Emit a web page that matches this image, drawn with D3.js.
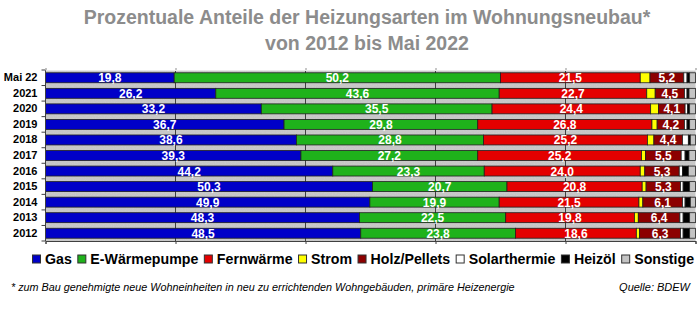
<!DOCTYPE html>
<html>
<head>
<meta charset="utf-8">
<script src="https://cdn.jsdelivr.net/npm/d3@7"></script>
<style>
  body { margin: 0; background: #fff; }
  svg { display: block; font-family: "Liberation Sans", Arial, sans-serif; }
</style>
</head>
<body>
<div id="chart"></div>
<script>
// years from top to bottom
const years = ["Mai 22", "2021", "2020", "2019", "2018", "2017", "2016", "2015", "2014", "2013", "2012"];

const series = ["Gas", "E-Wärmepumpe", "Fernwärme", "Strom", "Holz/Pellets", "Solarthermie", "Heizöl", "Sonstige"];
const colors = ["#0000c8", "#1fb21b", "#e40000", "#ffff00", "#8c0000", "#ffffff", "#000000", "#c4c4c4"];

// shares in percent, one entry per year (same order as years)
const gas          = [19.8, 26.2, 33.2, 36.7, 38.6, 39.3, 44.2, 50.3, 49.9, 48.3, 48.5];
const waermepumpe  = [50.2, 43.6, 35.5, 29.8, 28.8, 27.2, 23.3, 20.7, 19.9, 22.5, 23.8];
const fernwaerme   = [21.5, 22.7, 24.4, 26.8, 25.2, 25.2, 24.0, 20.8, 21.5, 19.8, 18.6];
const strom        = [1.5, 1.3, 1.2, 0.8, 1.0, 0.6, 0.7, 0.6, 0.6, 0.6, 0.5];
const holz         = [5.2, 4.5, 4.1, 4.2, 4.4, 5.5, 5.3, 5.3, 6.1, 6.4, 6.3];
const solar        = [0.5, 0.4, 0.4, 0.4, 0.9, 0.6, 0.5, 0.4, 0.4, 0.5, 0.4];
const heizoel      = [0.4, 0.3, 0.3, 0.4, 0.3, 0.6, 0.9, 1.0, 0.8, 1.0, 1.0];
const sonstige     = [0.9, 1.0, 0.9, 0.9, 0.8, 1.0, 1.1, 0.9, 0.8, 0.9, 0.9];

// series whose segments carry a value label
const labelled = ["Gas", "E-Wärmepumpe", "Fernwärme", "Holz/Pellets"];

const xTicks = [0, 20, 40, 60, 80, 100];

const width = 700, height = 325;
const plot = { left: 45.5, right: 695.5, top: 70, bottom: 241 };

const columns = [gas, waermepumpe, fernwaerme, strom, holz, solar, heizoel, sonstige];
const rows = years.map((year, i) => {
  const r = { year };
  series.forEach((s, j) => { r[s] = columns[j][i]; });
  return r;
});

const svg = d3.select("#chart").append("svg")
  .attr("width", width)
  .attr("height", height);

// grainy grey for the plot background
const defs = svg.append("defs");
const grain = defs.append("filter").attr("id", "grain")
  .attr("x", 0).attr("y", 0).attr("width", 1).attr("height", 1);
grain.append("feTurbulence")
  .attr("type", "fractalNoise").attr("baseFrequency", 0.9)
  .attr("numOctaves", 1).attr("seed", 3).attr("result", "noise");
grain.append("feColorMatrix")
  .attr("in", "noise").attr("type", "matrix")
  .attr("values", "0 0 0 0 0.62  0 0 0 0 0.62  0 0 0 0 0.62  0 0 0 1.4 -0.55")
  .attr("result", "dots");
grain.append("feComposite").attr("in", "dots").attr("in2", "SourceGraphic").attr("operator", "over");

// title
const title = ["Prozentuale Anteile der Heizungsarten im Wohnungsneubau*", "von 2012 bis Mai 2022"];
svg.append("g")
  .selectAll("text")
  .data(title)
  .join("text")
  .attr("x", 367).attr("y", (d, i) => 23.5 + i * 26)
  .attr("text-anchor", "middle")
  .attr("fill", "#8c8c8c")
  .attr("font-size", 19.5).attr("font-weight", "bold")
  .text(d => d);

const x = d3.scaleLinear().domain([0, 100]).range([plot.left, plot.right]);
const y = d3.scaleBand().domain(years).range([plot.top, plot.bottom])
  .paddingInner(0.36).paddingOuter(0.18);
const color = d3.scaleOrdinal().domain(series).range(colors);

// plot background
svg.append("rect")
  .attr("x", plot.left).attr("y", plot.top)
  .attr("width", plot.right - plot.left).attr("height", plot.bottom - plot.top)
  .attr("fill", "#c6c6c6")
  .attr("filter", "url(#grain)");

// vertical grid lines
svg.append("g")
  .selectAll("line")
  .data(xTicks.slice(1, -1))
  .join("line")
  .attr("x1", d => x(d)).attr("x2", d => x(d))
  .attr("y1", plot.top).attr("y2", plot.bottom)
  .attr("stroke", "#404040").attr("stroke-width", 1);

const stack = d3.stack().keys(series);
const stacked = stack(rows);

const layers = svg.append("g")
  .selectAll("g")
  .data(stacked)
  .join("g")
  .attr("fill", d => color(d.key));

layers.selectAll("rect")
  .data(d => d)
  .join("rect")
  .attr("x", d => x(d[0]))
  .attr("y", d => y(d.data.year))
  .attr("width", d => x(d[1]) - x(d[0]))
  .attr("height", y.bandwidth())
  .attr("stroke", "#202020")
  .attr("stroke-width", 0.8);

// value labels
svg.append("g")
  .selectAll("g")
  .data(stacked.filter(s => labelled.includes(s.key)))
  .join("g")
  .selectAll("text")
  .data(d => d)
  .join("text")
  .attr("x", d => (x(d[0]) + x(d[1])) / 2)
  .attr("y", d => y(d.data.year) + y.bandwidth() / 2 + 4.5)
  .attr("text-anchor", "middle")
  .attr("fill", "#fff")
  .attr("font-size", 12).attr("font-weight", "bold")
  .text(d => d3.format(".1f")(d[1] - d[0]).replace(".", ","));

// axes
const yAxis = d3.axisLeft(y).tickSize(0).tickPadding(8);
svg.append("g")
  .attr("transform", `translate(${plot.left},0)`)
  .call(yAxis)
  .call(g => g.select(".domain").remove())
  .call(g => g.selectAll("text")
    .attr("font-family", "Liberation Sans, Arial, sans-serif")
    .attr("font-size", 11).attr("font-weight", "bold").attr("fill", "#000"));

// band boundary ticks on the left axis
const bounds = years.map(yr => y(yr) - y.step() * y.paddingInner() / 2).concat([plot.bottom]);
svg.append("g")
  .selectAll("line")
  .data(bounds)
  .join("line")
  .attr("x1", plot.left - 4).attr("x2", plot.left)
  .attr("y1", d => d).attr("y2", d => d)
  .attr("stroke", "#404040");

svg.append("line")
  .attr("x1", plot.left).attr("x2", plot.left)
  .attr("y1", plot.top).attr("y2", plot.bottom)
  .attr("stroke", "#404040");

svg.append("g")
  .attr("transform", `translate(0,${plot.bottom})`)
  .call(d3.axisBottom(x).tickValues(xTicks).tickSize(3).tickFormat(""))
  .call(g => g.select(".domain").attr("stroke", "#404040"))
  .call(g => g.selectAll(".tick line").attr("stroke", "#404040"));

svg.append("g")
  .attr("transform", `translate(0,${plot.top})`)
  .call(d3.axisTop(x).tickValues(xTicks).tickSize(2).tickFormat(""))
  .call(g => g.select(".domain").attr("stroke", "#e8e8e8"))
  .call(g => g.selectAll(".tick line").attr("stroke", "#909090"));

// legend
const legend = svg.append("g").attr("transform", "translate(32,263.5)");
let lx = 0;
series.forEach(s => {
  const item = legend.append("g").attr("transform", `translate(${lx},0)`);
  item.append("rect")
    .attr("x", 0.5).attr("y", -8.5)
    .attr("width", 8).attr("height", 8)
    .attr("fill", color(s))
    .attr("stroke", "#303030").attr("stroke-width", 1);
  const t = item.append("text")
    .attr("x", 13).attr("y", 0)
    .attr("font-size", 14.2).attr("font-weight", "bold").attr("fill", "#000")
    .text(s);
  lx += 13 + t.node().getComputedTextLength() + 5.5;
});

// footnote and source
svg.append("text")
  .attr("x", 11).attr("y", 291)
  .attr("font-size", 10.8).attr("font-style", "italic").attr("fill", "#000")
  .text("* zum Bau genehmigte neue Wohneinheiten in neu zu errichtenden Wohngebäuden, primäre Heizenergie");
svg.append("text")
  .attr("x", 690).attr("y", 291)
  .attr("text-anchor", "end")
  .attr("font-size", 11).attr("font-style", "italic").attr("fill", "#000")
  .text("Quelle: BDEW");
</script>
</body>
</html>
